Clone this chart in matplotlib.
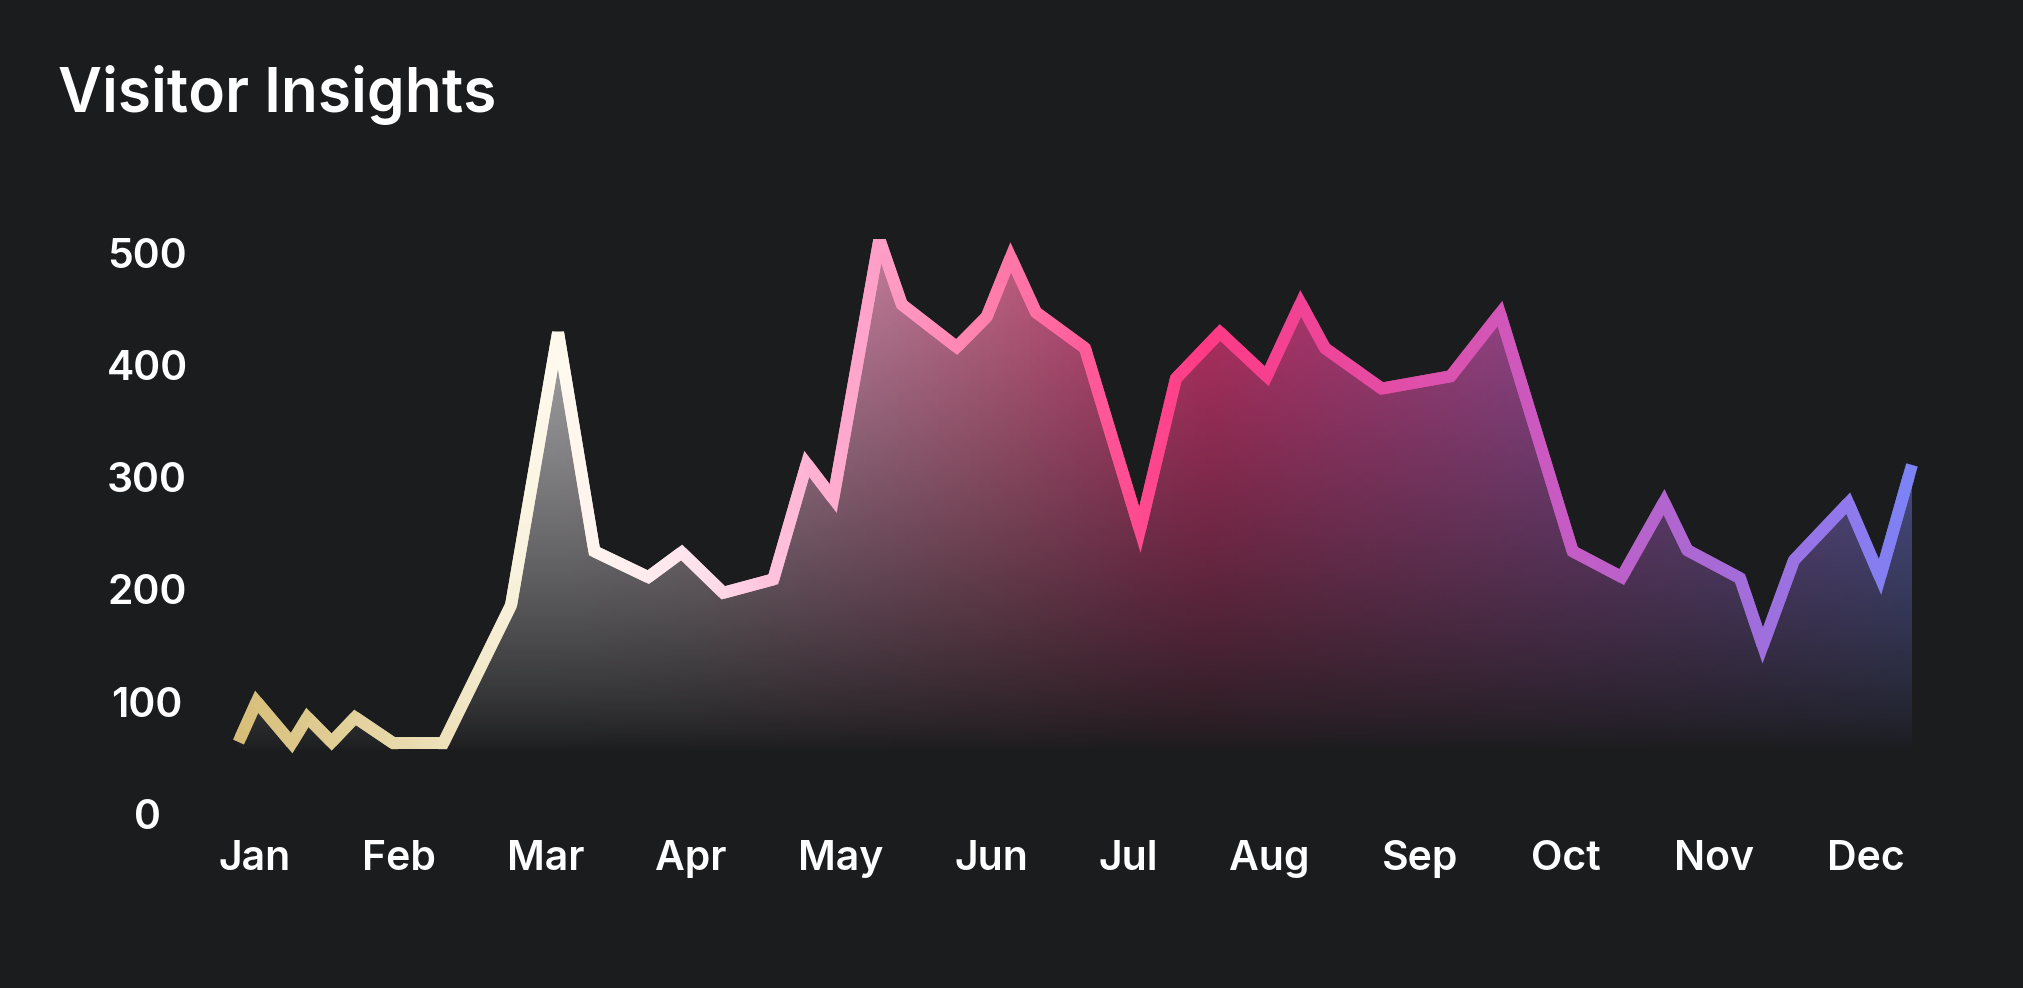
import numpy as np
import matplotlib
matplotlib.use("Agg")
import matplotlib.pyplot as plt
from matplotlib.collections import LineCollection
from matplotlib.colors import LinearSegmentedColormap
from matplotlib.patches import Polygon

# ---------------- data ----------------
title = "Visitor Insights"
month_labels = ["Jan", "Feb", "Mar", "Apr", "May", "Jun",
                "Jul", "Aug", "Sep", "Oct", "Nov", "Dec"]
# tick positions (in month units, Jan = 0)
month_pos = [0.0, 0.981, 1.985, 2.978, 3.998, 5.029,
             5.966, 6.928, 7.958, 8.950, 9.962, 11.003]
# sample positions (month units) and visitor counts
x_vals = [-0.112, 0.012, 0.251, 0.358, 0.524, 0.684, 0.945, 1.286, 1.749,
          2.070, 2.318, 2.686, 2.914, 3.198, 3.540, 3.768, 3.949, 4.264,
          4.417, 4.792, 4.997, 5.161, 5.333, 5.668, 6.043, 6.289, 6.590,
          6.909, 7.141, 7.307, 7.694, 8.165, 8.502, 8.998, 9.333, 9.622,
          9.781, 10.141, 10.296, 10.509, 10.880, 11.097, 11.315]
visitors = [64, 100, 63, 86, 64, 86, 63, 63, 186,
            429, 234, 211, 233, 197, 209, 312, 281, 512,
            454, 416, 443, 496, 447, 415, 253, 388, 429,
            390, 455, 415, 379, 390, 446, 234, 211, 278,
            235, 210, 150, 226, 277, 211, 311]
y_ticks = [0, 100, 200, 300, 400, 500]

# ---------------- style ----------------
BG = "#1b1c1e"
FONT = ["Inter", "DejaVu Sans"]
line_stops = [
    (0.00, "#d7be78"), (0.12, "#ece0b8"), (0.19, "#fffaee"),
    (0.27, "#ffe4ee"), (0.34, "#ffb4d4"), (0.38, "#ffa0c8"),
    (0.45, "#ff7eab"), (0.54, "#ff4a90"), (0.58, "#ff3a84"),
    (0.68, "#e64ba2"), (0.75, "#d456b6"), (0.79, "#c85ac3"),
    (0.85, "#b464cd"), (0.91, "#a06edc"), (0.96, "#9178eb"),
    (1.00, "#7d82f5"),
]
fill_stops = [
    (0.00, "#f4f2f6"), (0.19, "#f6f2f6"), (0.27, "#f2dce6"),
    (0.34, "#ffb4d4"), (0.38, "#ffa0c8"),
    (0.45, "#ff7eab"), (0.54, "#ff4a90"), (0.58, "#ff3a84"),
    (0.68, "#e64ba2"), (0.75, "#d456b6"), (0.79, "#c85ac3"),
    (0.85, "#b464cd"), (0.91, "#a06edc"), (0.96, "#9178eb"),
    (1.00, "#7d82f5"),
]
line_cmap = LinearSegmentedColormap.from_list("vis_line", line_stops)
fill_cmap = LinearSegmentedColormap.from_list("vis_fill", fill_stops)

plt.rcParams["font.family"] = FONT

W, H = 2024, 988
fig = plt.figure(figsize=(W / 100, H / 100), dpi=100, facecolor=BG)

ax_left, ax_right = 230, 1920
ax_top, ax_bottom = 239, 813.9
ax = fig.add_axes([ax_left / W, 1 - ax_bottom / H,
                   (ax_right - ax_left) / W, (ax_bottom - ax_top) / H])
ax.set_facecolor(BG)

x = np.array(x_vals, dtype=float)
y = np.array(visitors, dtype=float)

px_per_month = 146.45
x0 = -(254.9 - ax_left) / px_per_month
x1 = x0 + (ax_right - ax_left) / px_per_month
ymax = (ax_bottom - ax_top) / 1.1222
ax.set_xlim(x0, x1)
ax.set_ylim(0, ymax)

xmin_d, xmax_d = x.min(), x.max()

# ---------------- gradient fill ----------------
nx, ny = 900, 500
gx = np.linspace(x0, x1, nx)
gy = np.linspace(0, ymax, ny)
cols = fill_cmap(np.clip((gx - xmin_d) / (xmax_d - xmin_d), 0, 1))[:, :3]
alpha = 0.72 * np.clip((gy - 55) / 445, 0, 1) ** 0.8
img = np.zeros((ny, nx, 4))
img[:, :, :3] = cols[None, :, :]
img[:, :, 3] = alpha[:, None]
im = ax.imshow(img, extent=[x0, x1, 0, ymax], origin="lower",
               aspect="auto", interpolation="bilinear", zorder=1)
poly_xy = np.vstack([np.column_stack([x, y]),
                     [[x[-1], 0], [x[0], 0]]])
poly = Polygon(poly_xy, closed=True, facecolor="none", edgecolor="none",
               transform=ax.transData)
ax.add_patch(poly)
im.set_clip_path(poly)

# ---------------- gradient line ----------------
k = 10
dx, dy = [], []
for i in range(len(x) - 1):
    t = np.linspace(0, 1, k, endpoint=False)
    dx.extend(x[i] + (x[i + 1] - x[i]) * t)
    dy.extend(y[i] + (y[i + 1] - y[i]) * t)
dx.append(x[-1]); dy.append(y[-1])
dx = np.array(dx); dy = np.array(dy)

# vertices whose miter would be very long are drawn with a bevel join
disp = ax.transData.transform(np.column_stack([x, y]))
bevel_vertex = set()
for i in range(1, len(x) - 1):
    a = disp[i - 1] - disp[i]
    b = disp[i + 1] - disp[i]
    cosang = np.dot(a, b) / (np.linalg.norm(a) * np.linalg.norm(b))
    ang = np.arccos(np.clip(cosang, -1, 1))
    if 1.0 / np.sin(ang / 2) > 4.8:
        bevel_vertex.add(i * k)

pieces_m, cols_m, pieces_b, cols_b = [], [], [], []
for j in range(len(dx) - 2):
    seg = np.column_stack([dx[j:j + 3], dy[j:j + 3]])
    c = line_cmap(np.clip((dx[j + 1] - xmin_d) / (xmax_d - xmin_d), 0, 1))
    if (j + 1) in bevel_vertex:
        pieces_b.append(seg); cols_b.append(c)
    else:
        pieces_m.append(seg); cols_m.append(c)

lw = 8.6
ax.add_collection(LineCollection(pieces_m, colors=cols_m, linewidths=lw,
                                 joinstyle="miter", capstyle="butt", zorder=3))
if pieces_b:
    ax.add_collection(LineCollection(pieces_b, colors=cols_b, linewidths=lw,
                                     joinstyle="bevel", capstyle="butt", zorder=3))

# ---------------- axes styling ----------------
for s in ax.spines.values():
    s.set_visible(False)
ax.set_xticks(month_pos)
ax.set_xticklabels(month_labels)
ax.set_yticks(y_ticks)
ax.set_yticklabels([str(v) for v in y_ticks])
ax.tick_params(axis="both", length=0, colors="white", labelsize=29.5)
ax.tick_params(axis="x", pad=19)
ax.tick_params(axis="y", pad=(ax_left - 147) / 1.3889)
for lab in ax.get_yticklabels():
    lab.set_horizontalalignment("center")
    lab.set_fontweight("semibold")
for lab in ax.get_xticklabels():
    lab.set_fontweight("semibold")

fig.text(58 / W, 1 - 111.7 / H, title, color="white", fontsize=43.5,
         fontweight="semibold", ha="left", va="baseline")

fig.savefig("out.png", dpi=100, facecolor=BG)
